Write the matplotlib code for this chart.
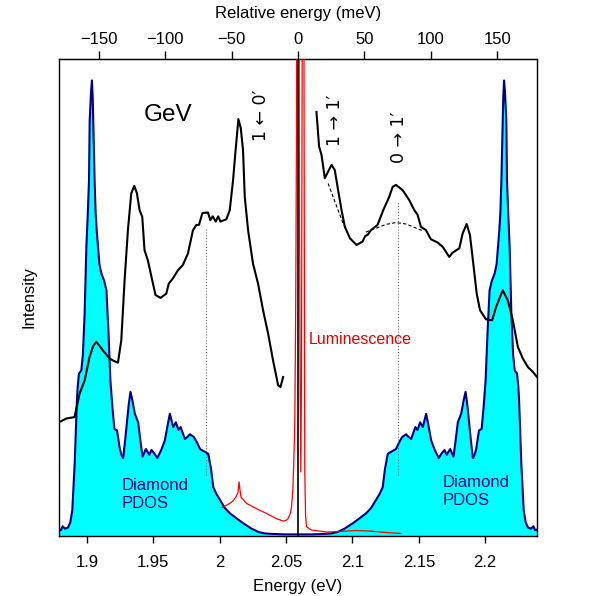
import matplotlib
matplotlib.use("Agg")
import matplotlib.pyplot as plt
import numpy as np

plt.rcParams['font.family'] = ['Liberation Sans', 'DejaVu Sans']
plt.rcParams['font.size'] = 12

# zero-phonon line (eV)
E0 = 2.059

# diamond phonon DOS vs phonon energy (meV), mirrored around the ZPL
phonon_mev = [0, 10, 20, 25, 29.8, 35, 41.1, 46, 51.2, 55, 58.7, 61.5, 63.8, 65.5,
              67.6, 70, 73.8, 76, 78.4, 81.4, 83, 85.2, 88.4, 90, 92, 94, 96.5, 98,
              100.3, 103, 106, 108, 110.3, 112, 114.6, 117.1, 118.5, 120.4, 122.9,
              124.8, 126.2, 127.5, 128.7, 130.2, 131.7, 133, 134.2, 136.3, 138.3,
              139.8, 141.3, 142.8, 144.3, 146, 148.1, 149.6, 150.6, 151.6, 152.4,
              153.2, 153.9, 154.6, 155.2, 155.9, 156.9, 157.4, 158.4, 159.4, 160.7,
              162, 163.2, 165, 166, 166.5, 167.3, 168.2, 170, 171.5, 173.3, 175.5,
              177.3, 178.5, 180, 182]
pdos = [0.003, 0.003, 0.004, 0.005, 0.008, 0.015, 0.026, 0.036, 0.047, 0.058,
        0.075, 0.088, 0.102, 0.140, 0.172, 0.176, 0.182, 0.195, 0.207, 0.213,
        0.208, 0.203, 0.228, 0.222, 0.238, 0.228, 0.256, 0.235, 0.200, 0.180,
        0.163, 0.172, 0.180, 0.170, 0.182, 0.166, 0.195, 0.238, 0.256, 0.285,
        0.302, 0.275, 0.242, 0.200, 0.163, 0.170, 0.182, 0.221, 0.224, 0.270,
        0.326, 0.430, 0.515, 0.535, 0.550, 0.570, 0.606, 0.640, 0.676, 0.746,
        0.830, 0.920, 0.955, 0.930, 0.870, 0.746, 0.670, 0.606, 0.466, 0.380,
        0.347, 0.340, 0.310, 0.284, 0.220, 0.151, 0.053, 0.028, 0.017, 0.015,
        0.020, 0.012, 0.013, 0.010]

# excitation spectrum below the ZPL
abs_lo_e = [1.8789, 1.8845, 1.8907, 1.8945, 1.8983, 1.9020, 1.9047, 1.9071, 1.9096,
            1.9120, 1.9171, 1.9201, 1.9234, 1.9259, 1.9284, 1.9309, 1.9334, 1.9357,
            1.9377, 1.9397, 1.9417, 1.9434, 1.9459, 1.9492, 1.9517, 1.9555, 1.9598,
            1.9617, 1.9648, 1.9686, 1.9723, 1.9761, 1.9799, 1.9825, 1.9844, 1.9870,
            1.9912, 1.9930, 1.9948, 1.9970, 1.9989, 2.0006, 2.0051, 2.0076, 2.0101,
            2.0117, 2.0141, 2.0159, 2.0176, 2.0189, 2.0214, 2.0251, 2.0289, 2.0327,
            2.0365, 2.0402, 2.0440, 2.0458, 2.0478]
abs_lo_i = [0.238, 0.246, 0.249, 0.298, 0.326, 0.375, 0.398, 0.407, 0.398,
            0.389, 0.372, 0.367, 0.363, 0.410, 0.536, 0.641, 0.718, 0.734,
            0.718, 0.683, 0.669, 0.599, 0.578, 0.536, 0.505, 0.499, 0.508,
            0.529, 0.540, 0.557, 0.568, 0.592, 0.641, 0.652, 0.652, 0.677,
            0.678, 0.662, 0.670, 0.659, 0.670, 0.659, 0.664, 0.683, 0.746,
            0.799, 0.874, 0.855, 0.809, 0.711, 0.641, 0.571, 0.529, 0.473,
            0.424, 0.368, 0.316, 0.312, 0.333]

# excitation spectrum above the ZPL
abs_hi_e = [2.0729, 2.0749, 2.0767, 2.0792, 2.0817, 2.0843, 2.0867, 2.0892, 2.0918,
            2.0943, 2.0981, 2.1031, 2.1076, 2.1097, 2.1114, 2.1139, 2.1189, 2.1232,
            2.1277, 2.1303, 2.1328, 2.1378, 2.1428, 2.1466, 2.1491, 2.1516, 2.1554,
            2.1591, 2.1642, 2.1680, 2.1729, 2.1755, 2.1805, 2.1830, 2.1860, 2.1885,
            2.1910, 2.1936, 2.1961, 2.2006, 2.2052, 2.2082, 2.2132, 2.2170, 2.2208,
            2.2246, 2.2283, 2.2321, 2.2358, 2.2390]
abs_hi_i = [0.889, 0.816, 0.799, 0.750, 0.764, 0.778, 0.767, 0.725, 0.683,
            0.648, 0.624, 0.610, 0.617, 0.629, 0.631, 0.641, 0.652, 0.683,
            0.711, 0.732, 0.736, 0.725, 0.704, 0.683, 0.673, 0.648, 0.641,
            0.622, 0.615, 0.606, 0.585, 0.594, 0.603, 0.634, 0.654, 0.631,
            0.571, 0.508, 0.473, 0.454, 0.452, 0.480, 0.515, 0.494, 0.452,
            0.396, 0.372, 0.354, 0.344, 0.333]

# backgrounds under the 1->1' and 0->1' bands
bg1_e = [2.0817, 2.0873, 2.0930, 2.0950]
bg1_i = [0.739, 0.697, 0.655, 0.645]
bg2_e = [2.1101, 2.1177, 2.1252, 2.1327, 2.1403, 2.1483, 2.1529]
bg2_i = [0.637, 0.645, 0.653, 0.657, 0.654, 0.645, 0.640]

# luminescence (doublet ZPL runs off the top)
lum_e = [2.0019, 2.0051, 2.0076, 2.0101, 2.0125, 2.0138, 2.0146, 2.0153, 2.0161,
         2.0202, 2.0277, 2.0352, 2.0428, 2.0478, 2.0498, 2.0515, 2.0532, 2.0541,
         2.0551, 2.0558, 2.0566, 2.0573, 2.0579, 2.0585, 2.0595, 2.0600, 2.0606,
         2.0611, 2.0616, 2.0620, 2.0626, 2.0631, 2.0637, 2.0641, 2.0647, 2.0654,
         2.0692, 2.0805, 2.0905, 2.1018, 2.1132, 2.1245, 2.1365]
lum_i = [0.060, 0.064, 0.068, 0.073, 0.083, 0.091, 0.113, 0.096, 0.081,
         0.068, 0.057, 0.047, 0.036, 0.031, 0.032, 0.036, 0.047, 0.060,
         0.096, 0.152, 0.242, 0.494, 0.872, 1.6, 1.6, 0.809, 0.326,
         0.134, 0.326, 0.809, 1.6, 1.6, 0.704, 0.137, 0.043, 0.019,
         0.012, 0.008, 0.009, 0.011, 0.010, 0.007, 0.005]

bottom_ticks = [1.9, 1.95, 2.0, 2.05, 2.1, 2.15, 2.2]
bottom_labels = ['1.9', '1.95', '2', '2.05', '2.1', '2.15', '2.2']
top_ticks = [-150, -100, -50, 0, 50, 100, 150]

# transition markers (eV) for dotted guides
guide_e = [1.9900, 2.1341]
guide_top = [0.648, 0.700]
guide_bottom = 0.127

fig = plt.figure(figsize=(5.96, 5.96), dpi=100)
ax = fig.add_axes([0.099, 0.101, 0.802, 0.800])

w = np.array(phonon_mev) / 1000.0
d = np.array(pdos)
dos_e = np.concatenate([E0 - w[::-1], E0 + w[1:]])
dos_i = np.concatenate([d[::-1], d[1:]])
ax.fill_between(dos_e, 0, dos_i, color='#00ffff', lw=0, zorder=1)
ax.plot(dos_e, dos_i, color='#00008b', lw=1.5, zorder=2)

for e, t in zip(guide_e, guide_top):
    ax.plot([e, e], [guide_bottom, t], color='#555555', lw=0.7,
            linestyle=(0, (1, 2)), zorder=2)

ax.plot(lum_e, lum_i, color='red', lw=0.9, zorder=3)
ax.plot(abs_lo_e, abs_lo_i, color='black', lw=1.5, zorder=4)
ax.plot(abs_hi_e, abs_hi_i, color='black', lw=1.5, zorder=4)
ax.plot(bg1_e, bg1_i, color='black', lw=0.8, linestyle=(0, (3, 2)), zorder=4)
ax.plot(bg2_e, bg2_i, color='black', lw=0.8, linestyle=(0, (3, 2)), zorder=4)
ax.axvline(E0, color='black', lw=1.2, zorder=5)

ann_font = ['DejaVu Sans']
ax.text(1.9615, 0.8825, 'GeV', fontsize=17.5, ha='center', va='center')
ax.text(2.0309, 0.8825, '1 \u2190 0\u2032', fontsize=12.5, rotation=90,
        ha='center', va='center', family=ann_font)
ax.text(2.0868, 0.872, '1 \u2192 1\u2032', fontsize=12.5, rotation=90,
        ha='center', va='center', family=ann_font)
ax.text(2.1354, 0.8363, '0 \u2192 1\u2032', fontsize=12.5, rotation=90,
        ha='center', va='center', family=ann_font)
ax.text(2.0669, 0.4124, 'Luminescence', color='#e00000', fontsize=11.5,
        ha='left', va='center')
ax.text(1.9259, 0.087, 'Diamond\nPDOS', color='#00008b', fontsize=12,
        ha='left', va='center', linespacing=1.25)
ax.text(2.1680, 0.092, 'Diamond\nPDOS', color='#00008b', fontsize=12,
        ha='left', va='center', linespacing=1.25)

ax.set_xlim(E0 - 0.18, E0 + 0.18)
ax.set_ylim(0, 1)
ax.set_xticks(bottom_ticks)
ax.set_xticklabels(bottom_labels)
ax.tick_params(axis='x', direction='out', length=5, width=1, pad=9)
ax.tick_params(axis='y', left=False, labelleft=False)
ax.set_xlabel('Energy (eV)', labelpad=6)
ax.set_ylabel('Intensity', labelpad=16)

sec = ax.secondary_xaxis('top', functions=(lambda e: (e - E0) * 1000.0,
                                            lambda m: m / 1000.0 + E0))
sec.set_xticks(top_ticks)
sec.tick_params(direction='out', length=6, width=1, pad=2.5)
sec.set_xlabel('Relative energy (meV)', labelpad=10)

for s in ax.spines.values():
    s.set_linewidth(1.0)

fig.savefig('out.png', dpi=100)
